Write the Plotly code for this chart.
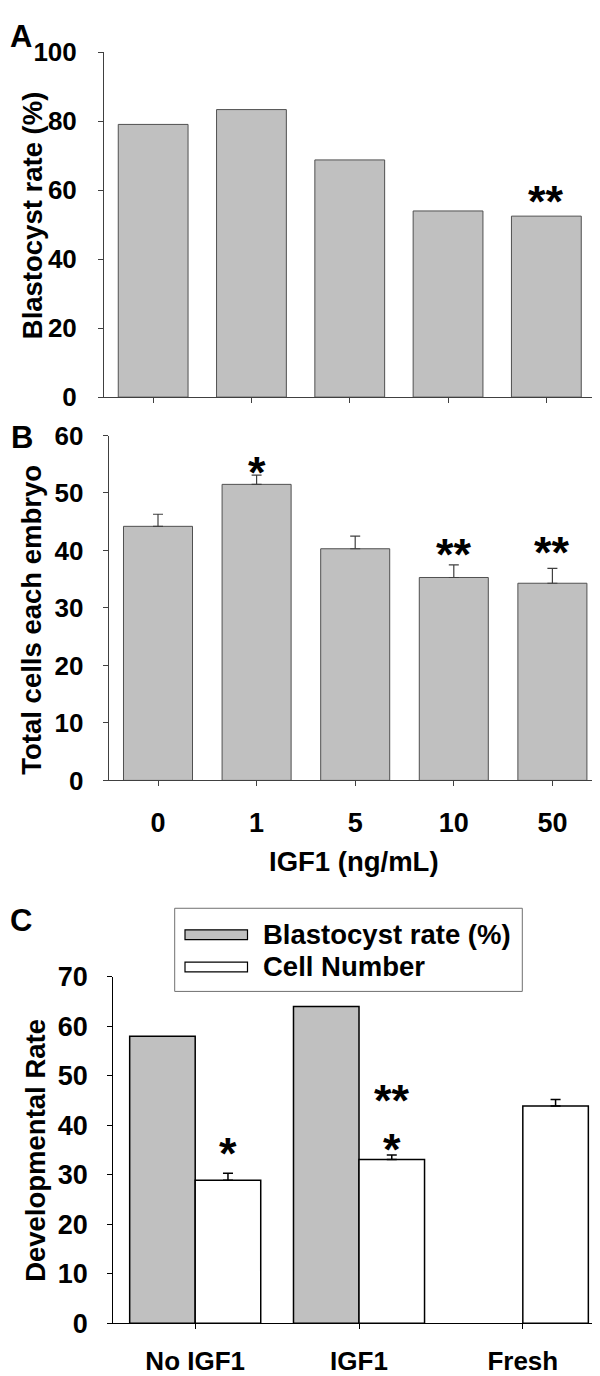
import plotly.graph_objects as go

W, H = 600, 1376

# ---------------- data ----------------
doses = ["0", "1", "5", "10", "50"]
blast_rate_A = [79.1, 83.4, 68.8, 54.0, 52.5]
cells_B = [44.2, 51.5, 40.3, 35.3, 34.3]
cells_B_err = [2.1, 1.6, 2.2, 2.2, 2.6]
groups_C = ["No IGF1", "IGF1", "Fresh"]
blast_C = [58.0, 64.0, None]
cells_C = [28.9, 33.1, 43.9]
cells_C_err = [1.4, 0.9, 1.3]

# significance marks (category index, y value, text)
stars_A = [(4, 59.6, "**")]
stars_B = [(1, 55.2, "*"), (3, 41.0, "**"), (4, 41.4, "**")]
stars_C = [(0.2, 36.4, "*"), (1.2, 47.1, "**"), (1.2, 37.1, "*")]

FONT = "Liberation Sans"
GRAY = "#C0C0C0"
AX_AB = "#404040"

# pixel layout of the three panels (plot-area edges)
A_X0, A_X1, A_Y0, A_Y1 = 96, 587.5, 382.5, 30
B_X0, B_X1, B_Y0, B_Y1 = 100.7, 593.7, 774.3, 421.7
C_X0, C_X1, C_Y0, C_Y1 = 105.3, 600, 1329.3, 975
STAR = 45


def fx(px):
    return px / W


def fy(py):
    return 1 - py / H


fig = go.Figure()

# Panel A
fig.add_trace(go.Bar(x=doses, y=blast_rate_A, width=0.71,
                     marker=dict(color=GRAY, line=dict(color="#505050", width=1)),
                     xaxis="x", yaxis="y", showlegend=False))
# Panel B
fig.add_trace(go.Bar(x=doses, y=cells_B, width=0.70,
                     marker=dict(color=GRAY, line=dict(color="#505050", width=1)),
                     error_y=dict(type="data", symmetric=False, array=cells_B_err,
                                  arrayminus=[0] * len(cells_B_err),
                                  color="#404040", thickness=1.2, width=5),
                     xaxis="x2", yaxis="y2", showlegend=False))
# Panel C
fig.add_trace(go.Bar(x=groups_C, y=blast_C, width=0.4, offset=-0.4,
                     name="Blastocyst rate (%)",
                     marker=dict(color=GRAY, line=dict(color="black", width=1.5)),
                     xaxis="x3", yaxis="y3", showlegend=False))
fig.add_trace(go.Bar(x=groups_C, y=cells_C, width=0.4, offset=0.0,
                     name="Cell Number",
                     marker=dict(color="white", line=dict(color="black", width=1.5)),
                     error_y=dict(type="data", symmetric=False, array=cells_C_err,
                                  arrayminus=[0] * len(cells_C_err),
                                  color="black", thickness=1.5, width=5),
                     xaxis="x3", yaxis="y3", showlegend=False))


def tf(size):
    return dict(family=FONT, size=size, color="black", weight="bold")


common_y = dict(showgrid=False, zeroline=False, showline=True, ticks="outside",
                ticklen=5, tickwidth=1)
common_x = dict(showgrid=False, zeroline=False, showline=True, ticks="outside",
                ticklen=5, tickwidth=1, type="category")

fig.update_layout(
    width=W, height=H, margin=dict(l=0, r=0, t=0, b=0),
    paper_bgcolor="white", plot_bgcolor="white",
    barmode="overlay",
    font=dict(family=FONT, color="black"),
    xaxis=dict(common_x, domain=[fx(A_X0), fx(A_X1)], range=[-0.5, 4.5], anchor="y",
               showticklabels=False, linecolor=AX_AB, tickcolor=AX_AB,
               categoryorder="array", categoryarray=doses),
    yaxis=dict(common_y, domain=[fy(A_Y0), fy(A_Y1)], range=[0, 100], anchor="x",
               tickvals=[0, 20, 40, 60, 80, 100], linecolor=AX_AB, tickcolor=AX_AB,
               tickfont=tf(26), ticklabelstandoff=16),
    xaxis2=dict(common_x, domain=[fx(B_X0), fx(B_X1)], range=[-0.5, 4.5], anchor="y2",
                linecolor=AX_AB, tickcolor=AX_AB, tickfont=tf(27), ticklabelstandoff=13,
                categoryorder="array", categoryarray=doses),
    yaxis2=dict(common_y, domain=[fy(B_Y0), fy(B_Y1)], range=[0, 60], anchor="x2",
                tickvals=[0, 10, 20, 30, 40, 50, 60], linecolor=AX_AB, tickcolor=AX_AB,
                tickfont=tf(26), ticklabelstandoff=14),
    xaxis3=dict(common_x, domain=[fx(C_X0), fx(C_X1)], range=[-0.5, 2.52], anchor="y3",
                linecolor="black", tickcolor="black", tickfont=tf(26), ticklabelstandoff=9,
                categoryorder="array", categoryarray=groups_C),
    yaxis3=dict(common_y, domain=[fy(C_Y0), fy(C_Y1)], range=[0, 70], anchor="x3",
                tickvals=[0, 10, 20, 30, 40, 50, 60, 70], linecolor="black",
                tickcolor="black", tickfont=tf(27), ticklabelstandoff=14),
)

ann = []
# panel letters
for txt, cx, cy in [("A", 13, 13.5), ("B", 13.5, 424), ("C", 13, 917)]:
    ann.append(dict(text=txt, x=fx(cx), y=fy(cy), xref="paper", yref="paper",
                    xanchor="center", yanchor="middle", showarrow=False, font=tf(31)))
# axis titles
for txt, cx, cy in [("Blastocyst rate (%)", 24, 196.5),
                    ("Total cells each embryo", 24, 610),
                    ("Developmental Rate", 27.5, 1152.5)]:
    ann.append(dict(text=txt, x=fx(cx), y=fy(cy), xref="paper", yref="paper",
                    xanchor="center", yanchor="middle", showarrow=False,
                    textangle=-90, font=tf(27.5)))
ann.append(dict(text="IGF1 (ng/mL)", x=fx(346), y=fy(857), xref="paper", yref="paper",
                xanchor="center", yanchor="middle", showarrow=False, font=tf(27.5)))

# significance stars
for axes, stars in [(("x", "y"), stars_A), (("x2", "y2"), stars_B),
                    (("x3", "y3"), stars_C)]:
    for xi, yv, txt in stars:
        ann.append(dict(text=txt, x=xi, y=yv, xref=axes[0], yref=axes[1],
                        xanchor="center", yanchor="middle", showarrow=False,
                        yshift=-0.22 * STAR, font=tf(STAR)))

# legend (drawn manually)
shapes = [
    dict(type="rect", xref="paper", yref="paper", x0=fx(166.7), x1=fx(514.3),
         y0=fy(990), y1=fy(905), line=dict(color="#707070", width=1), fillcolor="white"),
    dict(type="rect", xref="paper", yref="paper", x0=fx(177), x1=fx(239.5),
         y0=fy(937), y1=fy(927), line=dict(color="black", width=1.2), fillcolor=GRAY),
    dict(type="rect", xref="paper", yref="paper", x0=fx(177), x1=fx(239.5),
         y0=fy(970), y1=fy(960), line=dict(color="black", width=1.2), fillcolor="white"),
]
for txt, cy in [("Blastocyst rate (%)", 932), ("Cell Number", 965)]:
    ann.append(dict(text=txt, x=fx(253), y=fy(cy), xref="paper", yref="paper",
                    xanchor="left", yanchor="middle", showarrow=False, font=tf(27.5)))

fig.update_layout(annotations=ann, shapes=shapes)
fig.write_html("out.html")
